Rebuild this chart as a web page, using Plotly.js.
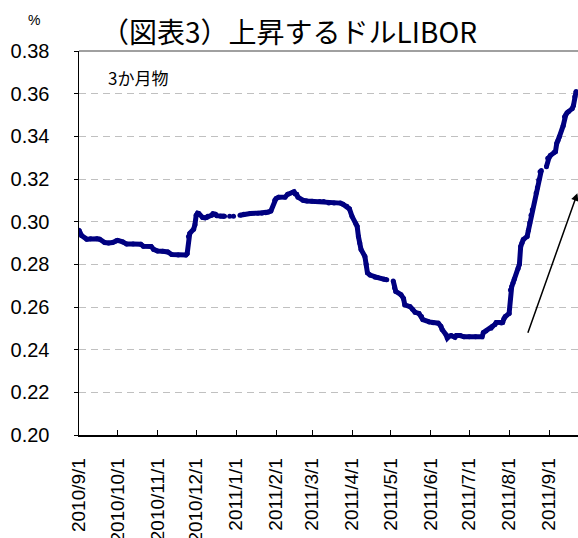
<!DOCTYPE html>
<html>
<head>
<meta charset="utf-8">
<script src="https://cdn.plot.ly/plotly-3.0.1.min.js"></script>
<style>html,body{margin:0;padding:0;background:#fff;}#chart{width:578px;height:538px;}</style>
</head>
<body>
<div id="chart"></div>
<script>
// 3-month USD LIBOR (%), null = no fixing (holiday gap)
const dates = [
"2010-09-01","2010-09-03","2010-09-07","2010-09-10","2010-09-15","2010-09-17","2010-09-21","2010-09-24","2010-09-27","2010-09-30",
"2010-10-01","2010-10-05","2010-10-08","2010-10-13","2010-10-19","2010-10-21","2010-10-27","2010-10-29","2010-11-01","2010-11-05",
"2010-11-09","2010-11-12","2010-11-17","2010-11-23","2010-11-24","2010-11-25","2010-11-26","2010-11-29","2010-11-30","2010-12-01",
"2010-12-02","2010-12-03","2010-12-06","2010-12-08","2010-12-09","2010-12-10","2010-12-13","2010-12-14","2010-12-16","2010-12-17",
"2010-12-20","2010-12-22","2010-12-23","2010-12-24","2010-12-27","2010-12-28","2010-12-30","2010-12-31","2011-01-04","2011-01-07",
"2011-01-12","2011-01-18","2011-01-21","2011-01-24","2011-01-26","2011-01-28","2011-01-31","2011-02-01","2011-02-03","2011-02-08",
"2011-02-10","2011-02-14","2011-02-15","2011-02-16","2011-02-17","2011-02-18","2011-02-22","2011-02-25","2011-03-01","2011-03-07",
"2011-03-10","2011-03-14","2011-03-18","2011-03-23","2011-03-25","2011-03-28","2011-03-30","2011-04-01","2011-04-04","2011-04-05",
"2011-04-06","2011-04-07","2011-04-08","2011-04-11","2011-04-12","2011-04-13","2011-04-15","2011-04-19","2011-04-21","2011-04-26",
"2011-04-28","2011-04-29","2011-05-03","2011-05-04","2011-05-05","2011-05-09","2011-05-11","2011-05-12","2011-05-16","2011-05-18",
"2011-05-20","2011-05-23","2011-05-25","2011-05-26","2011-05-31","2011-06-03","2011-06-07","2011-06-09","2011-06-10","2011-06-13",
"2011-06-14","2011-06-15","2011-06-17","2011-06-20","2011-06-21","2011-06-24","2011-06-27","2011-07-01","2011-07-06","2011-07-11",
"2011-07-12","2011-07-14","2011-07-18","2011-07-19","2011-07-21","2011-07-22","2011-07-26","2011-07-27","2011-07-28","2011-07-29",
"2011-08-01","2011-08-02","2011-08-03","2011-08-04","2011-08-05","2011-08-08","2011-08-09","2011-08-10","2011-08-11","2011-08-12",
"2011-08-15","2011-08-16","2011-08-17","2011-08-18","2011-08-19","2011-08-22","2011-08-23","2011-08-24","2011-08-25","2011-08-26",
"2011-08-29","2011-08-30","2011-08-31","2011-09-01","2011-09-02","2011-09-05","2011-09-06","2011-09-07","2011-09-08","2011-09-09",
"2011-09-12","2011-09-13","2011-09-14","2011-09-15","2011-09-16","2011-09-19","2011-09-20","2011-09-21","2011-09-22"
];
const libor3m = [
0.2960,0.2935,0.2918,0.2920,0.2920,0.2918,0.2902,0.2900,0.2902,0.2910,
0.2912,0.2905,0.2895,0.2895,0.2894,0.2885,0.2884,0.2870,0.2862,0.2861,
0.2858,0.2846,0.2844,0.2844,0.2850,0.2930,0.2945,0.2965,0.2985,0.3030,
0.3040,0.3038,0.3020,0.3018,0.3020,0.3025,0.3030,0.3037,0.3035,0.3028,
0.3025,0.3025,0.3025,null,0.3025,null,0.3025,null,0.3030,0.3035,
0.3038,0.3040,0.3040,0.3042,0.3045,0.3050,0.3100,0.3108,0.3114,0.3115,
0.3128,0.3138,0.3140,0.3130,0.3128,0.3115,0.3100,0.3097,0.3096,0.3095,
0.3094,0.3088,0.3087,0.3087,0.3082,0.3072,0.3060,0.3025,0.2990,0.2978,
0.2930,0.2900,0.2870,0.2837,0.2800,0.2760,0.2750,0.2740,0.2738,0.2730,
0.2728,null,0.2722,0.2690,0.2673,0.2658,0.2640,0.2610,0.2602,0.2590,
0.2575,0.2570,0.2555,0.2541,0.2530,0.2526,0.2524,0.2510,0.2494,0.2470,
0.2455,0.2462,0.2466,0.2458,0.2466,0.2466,0.2460,0.2460,0.2460,0.2460,
0.2480,0.2488,0.2500,0.2509,0.2518,0.2527,0.2525,0.2528,0.2545,0.2555,
0.2570,0.2680,0.2695,0.2712,0.2730,0.2780,0.2800,0.2884,0.2900,0.2916,
0.2931,0.2960,0.2994,0.3030,0.3056,0.3134,0.3160,0.3195,0.3234,0.3240,
null,0.3258,0.3297,0.3300,0.3310,0.3325,0.3328,0.3367,0.3380,0.3398,
0.3450,0.3492,0.3500,0.3510,0.3515,0.3530,0.3545,0.3586,0.3610
];
const yTicks = [0.20,0.22,0.24,0.26,0.28,0.30,0.32,0.34,0.36,0.38];
const titleText = "（図表3）上昇するドルLIBOR";
const seriesNote = "3か月物";
const unitLabel = "%";

const trace = {
  x: dates, y: libor3m, type: "scatter", mode: "lines+markers",
  line: {color: "#000080", width: 5},
  marker: {color: "#000080", size: 5},
  connectgaps: false, hoverinfo: "skip", cliponaxis: true
};

const layout = {
  width: 578, height: 538,
  margin: {l: 79, r: 0, t: 51, b: 103, autoexpand: false},
  paper_bgcolor: "#ffffff", plot_bgcolor: "#ffffff",
  showlegend: false,
  title: {
    text: titleText, xref: "container", yref: "container",
    x: 0.5, y: 0.939, xanchor: "center", yanchor: "middle",
    font: {family: "Noto Sans CJK JP", size: 28, color: "#000"}
  },
  xaxis: {
    type: "date", range: ["2010-09-01", "2011-09-23 12:00"],
    tick0: "2010-09-01", dtick: "M1", tickformat: "%Y/%-m/%-d",
    tickangle: -90, ticks: "inside", ticklen: 5, tickcolor: "#000", tickwidth: 1,
    showline: true, linecolor: "#000", linewidth: 1.5,
    showgrid: false, zeroline: false, automargin: false,
    ticklabelstandoff: 14,
    tickfont: {family: "Liberation Sans, Arial, sans-serif", size: 19, color: "#000"}
  },
  yaxis: {
    range: [0.20, 0.38], tickvals: yTicks, tickformat: ".2f",
    ticks: "outside", ticklen: 4, tickcolor: "#000", tickwidth: 1,
    showline: true, linecolor: "#000", linewidth: 1.5,
    showgrid: true, gridcolor: "#c0c0c0", gridwidth: 1, griddash: "7px,5px",
    zeroline: false, automargin: false,
    ticklabelstandoff: 20,
    tickfont: {family: "Liberation Sans, Arial, sans-serif", size: 20, color: "#000"}
  },
  shapes: [
    {type: "line", xref: "paper", yref: "paper", x0: 0, x1: 1, y0: 1, y1: 1,
     line: {color: "#808080", width: 1.5}}
  ],
  annotations: [
    {text: unitLabel, xref: "paper", yref: "paper", x: -0.09, y: 1.08,
     xanchor: "center", yanchor: "middle", showarrow: false,
     font: {family: "Liberation Sans, Arial, sans-serif", size: 14, color: "#000"}},
    {text: seriesNote, xref: "paper", yref: "paper", x: 0.118, y: 0.93,
     xanchor: "center", yanchor: "middle", showarrow: false,
     font: {family: "Noto Sans CJK JP", size: 17, color: "#000"}},
    {text: "", xref: "x", yref: "y", x: "2011-09-23", y: 0.3133,
     ax: -50, ay: 141, showarrow: true, arrowhead: 2, arrowsize: 1,
     arrowwidth: 1.5, arrowcolor: "#000"}
  ]
};

Plotly.newPlot("chart", [trace], layout, {staticPlot: true, displayModeBar: false});
</script>
</body>
</html>
